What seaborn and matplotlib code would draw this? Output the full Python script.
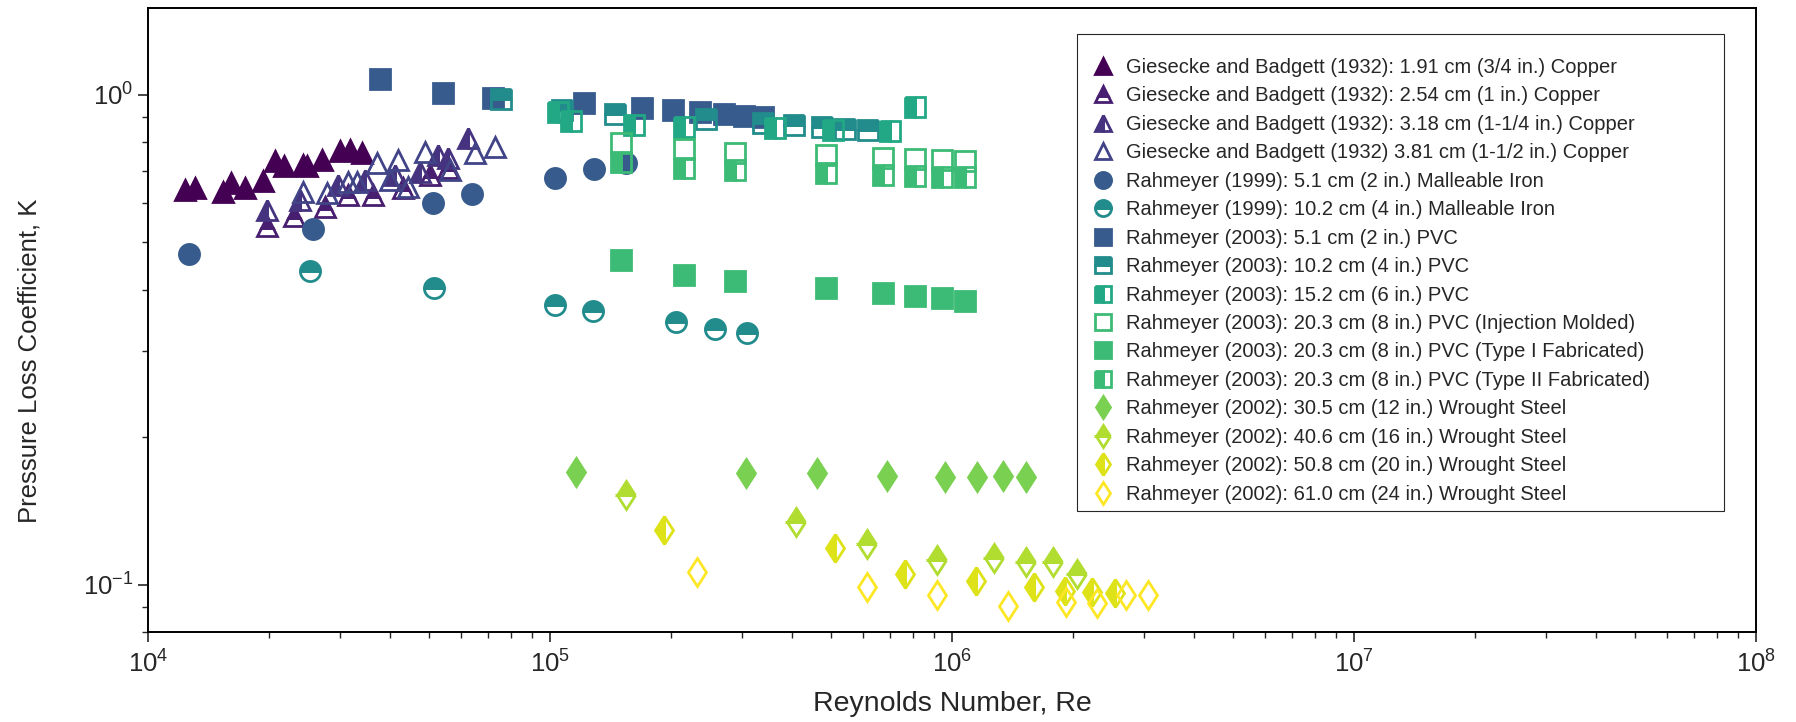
import numpy as np
import pandas as pd
import matplotlib
matplotlib.use("Agg")
import matplotlib.pyplot as plt
import matplotlib.colors as mcolors
from matplotlib.ticker import LogLocator, NullFormatter
import seaborn as sns

# ---------------- data ----------------
labels = [
    "Giesecke and Badgett (1932): 1.91 cm (3/4 in.) Copper",
    "Giesecke and Badgett (1932): 2.54 cm (1 in.) Copper",
    "Giesecke and Badgett (1932): 3.18 cm (1-1/4 in.) Copper",
    "Giesecke and Badgett (1932) 3.81 cm (1-1/2 in.) Copper",
    "Rahmeyer (1999): 5.1 cm (2 in.) Malleable Iron",
    "Rahmeyer (1999): 10.2 cm (4 in.) Malleable Iron",
    "Rahmeyer (2003): 5.1 cm (2 in.) PVC",
    "Rahmeyer (2003): 10.2 cm (4 in.) PVC",
    "Rahmeyer (2003): 15.2 cm (6 in.) PVC",
    "Rahmeyer (2003): 20.3 cm (8 in.) PVC (Injection Molded)",
    "Rahmeyer (2003): 20.3 cm (8 in.) PVC (Type I Fabricated)",
    "Rahmeyer (2003): 20.3 cm (8 in.) PVC (Type II Fabricated)",
    "Rahmeyer (2002): 30.5 cm (12 in.) Wrought Steel",
    "Rahmeyer (2002): 40.6 cm (16 in.) Wrought Steel",
    "Rahmeyer (2002): 50.8 cm (20 in.) Wrought Steel",
    "Rahmeyer (2002): 61.0 cm (24 in.) Wrought Steel",
]
diameters_cm = [1.91, 2.54, 3.18, 3.81, 5.1, 10.2, 5.1, 10.2, 15.2,
                20.3, 20.3, 20.3, 30.5, 40.6, 50.8, 61.0]

re_1 = [12370, 13090, 15350, 16090, 17420, 19350, 20700, 21830, 24330, 24900, 27040, 30040, 31790, 34010]
k_1 = [0.639, 0.645, 0.633, 0.659, 0.645, 0.668, 0.731, 0.714, 0.719, 0.715, 0.736, 0.766, 0.770, 0.759]
re_2 = [19740, 23120, 27560, 31440, 36340, 43160, 50290, 55850]
k_2 = [0.539, 0.566, 0.590, 0.624, 0.624, 0.644, 0.685, 0.708]
re_3 = [19740, 23880, 29700, 34650, 41150, 47500, 52740, 55850, 62640]
k_3 = [0.583, 0.609, 0.654, 0.669, 0.685, 0.695, 0.753, 0.741, 0.814]
re_4 = [24340, 27830, 31480, 33050, 37190, 39990, 41940, 44410, 48870, 56390, 65070, 72990]
k_4 = [0.633, 0.629, 0.664, 0.664, 0.724, 0.669, 0.735, 0.649, 0.765, 0.702, 0.759, 0.783]
re_5 = [12650, 25690, 51250, 64080, 102900, 128700, 154300]
k_5 = [0.474, 0.533, 0.601, 0.626, 0.677, 0.704, 0.724]
re_6 = [25290, 51450, 102900, 128200, 205800, 257300, 308600]
k_6 = [0.437, 0.4035, 0.372, 0.362, 0.343, 0.333, 0.3265]
re_7 = [37770, 54270, 72270, 121700, 169100, 202600, 236100, 270900, 303800, 338200]
k_7 = [1.075, 1.009, 0.983, 0.960, 0.940, 0.930, 0.923, 0.913, 0.906, 0.901]
re_8 = [75510, 107100, 145100, 244000, 338200, 405300, 474100, 541800, 619300]
k_8 = [0.978, 0.930, 0.913, 0.892, 0.876, 0.867, 0.860, 0.852, 0.847]
re_9 = [104900, 112600, 161800, 215400, 362800, 505000, 701200, 809000]
k_9 = [0.923, 0.884, 0.867, 0.860, 0.853, 0.849, 0.843, 0.942]
re_10 = [150200, 215400, 288500, 485100, 672400, 809000, 942800, 1077000]
k_10 = [0.795, 0.773, 0.759, 0.753, 0.741, 0.738, 0.735, 0.733]
re_11 = [150200, 215400, 288500, 485100, 672400, 809000, 942800, 1077000]
k_11 = [0.461, 0.429, 0.416, 0.4035, 0.394, 0.389, 0.384, 0.380]
re_12 = [150200, 215400, 288500, 485100, 672400, 809000, 942800, 1077000]
k_12 = [0.729, 0.710, 0.702, 0.693, 0.685, 0.682, 0.680, 0.678]
re_13 = [116000, 307500, 460700, 690500, 960000, 1152000, 1341000, 1532000]
k_13 = [0.170, 0.169, 0.169, 0.167, 0.166, 0.166, 0.167, 0.166]
re_14 = [154300, 408900, 612900, 916000, 1274000, 1525000, 1784000, 2043000]
k_14 = [0.1523, 0.1343, 0.1213, 0.1122, 0.1136, 0.1113, 0.1113, 0.1054]
re_15 = [192700, 510900, 765300, 1147000, 1598000, 1913000, 2227000, 2551000]
k_15 = [0.1296, 0.1191, 0.1054, 0.1018, 0.0990, 0.0974, 0.0966, 0.0962]
re_16 = [232200, 612900, 916000, 1379000, 1926000, 2296000, 2705000, 3076000]
k_16 = [0.1062, 0.0990, 0.0952, 0.0904, 0.0922, 0.0918, 0.0952, 0.0952]

re_all = [re_1, re_2, re_3, re_4, re_5, re_6, re_7, re_8, re_9, re_10, re_11, re_12, re_13, re_14, re_15, re_16]
k_all = [k_1, k_2, k_3, k_4, k_5, k_6, k_7, k_8, k_9, k_10, k_11, k_12, k_13, k_14, k_15, k_16]

# ---------------- style ----------------
markers = ['^', '^', '^', '^', 'o', 'o', 's', 's', 's', 's', 's', 's', 'd', 'd', 'd', 'd']
fills = ['full', 'top', 'left', 'none', 'full', 'top', 'full', 'top', 'left', 'none',
         'full', 'left', 'full', 'top', 'left', 'none']

sns.set_style("ticks")
plt.rcParams['font.family'] = ['Liberation Sans', 'DejaVu Sans']
plt.rcParams['mathtext.fontset'] = 'custom'
plt.rcParams['mathtext.rm'] = 'Liberation Sans'
plt.rcParams['mathtext.it'] = 'Liberation Sans:italic'
plt.rcParams['mathtext.bf'] = 'Liberation Sans:bold'

norm = mcolors.LogNorm(vmin=min(diameters_cm), vmax=max(diameters_cm))
cmap = plt.get_cmap("viridis")
colors = [cmap(norm(d)) for d in diameters_cm]

fig = plt.figure(figsize=(17.96, 7.22), dpi=100)
ax = fig.add_axes([0.0824, 0.1240, 0.8953, 0.8645])
ax.set_xscale("log")
ax.set_yscale("log")

for i in range(16):
    df = pd.DataFrame({"Re": re_all[i], "K": k_all[i]})
    sns.lineplot(data=df, x="Re", y="K", ax=ax, estimator=None, sort=False,
                 color=colors[i], marker=markers[i], fillstyle=fills[i],
                 linestyle="none", markersize=14.5, mec=colors[i], mew=2.0,
                 label=labels[i], legend=False)

ax.set_xlim(1e4, 1e8)
ax.set_ylim(0.08, 1.5)
ax.xaxis.set_major_locator(LogLocator(base=10, numticks=10))
ax.xaxis.set_minor_locator(LogLocator(base=10, subs=np.arange(2, 10), numticks=100))
ax.yaxis.set_minor_formatter(NullFormatter())
ax.xaxis.set_minor_formatter(NullFormatter())

ax.set_xlabel("Reynolds Number, Re", fontsize=20.5)
ax.set_ylabel("Pressure Loss Coefficient, K", fontsize=18.5)
ax.xaxis.set_label_coords(0.5, -0.094)
ax.yaxis.set_label_coords(-0.066, 0.435)
ax.tick_params(which="major", length=7, width=1.2, labelsize=18.5, direction="out")
ax.tick_params(axis="x", which="major", pad=6)
ax.tick_params(which="minor", length=4, width=1.0, direction="out")
for sp in ax.spines.values():
    sp.set_linewidth(1.4)
    sp.set_color("black")
    sp.set_visible(True)

handles, labs = ax.get_legend_handles_labels()
leg = ax.legend(handles, labs, loc="upper left",
                bbox_to_anchor=(0.5775, 0.0, 0.4028, 0.9583), mode="expand",
                borderaxespad=0, fontsize=14.5, frameon=True, fancybox=False,
                edgecolor="0.15", framealpha=1, labelspacing=0.47,
                handlelength=1.9, handletextpad=0.2, borderpad=0.35,
                markerscale=0.8, title=" ", title_fontsize=5)
leg.get_frame().set_linewidth(0.8)

fig.savefig("out.png", dpi=100)
